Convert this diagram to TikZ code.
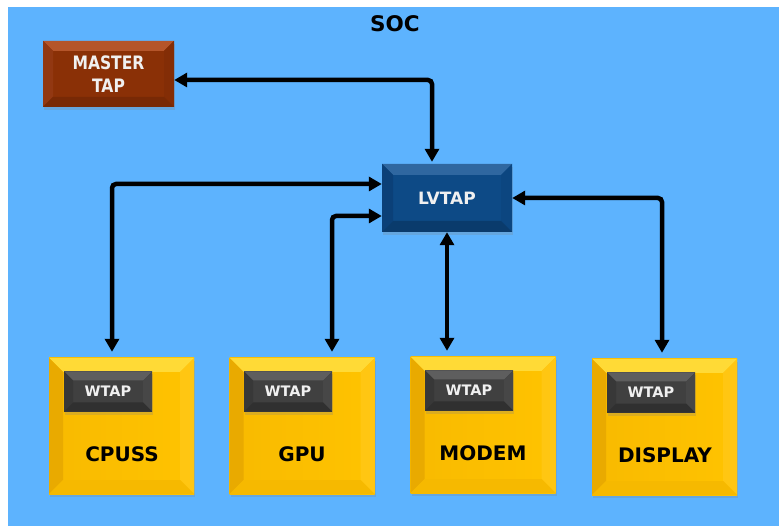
\documentclass[tikz,border=0pt]{standalone}
\usepackage{fontspec}
\setmainfont{DejaVu Sans}
\newfontfamily\narrowfont[FakeStretch=0.84]{DejaVu Sans}
\usetikzlibrary{arrows.meta,shadows,calc}

% palette
\definecolor{socblue}{HTML}{5DB3FE}
\definecolor{brmain}{HTML}{8A3006}
\definecolor{brtop}{HTML}{B5552A}
\definecolor{brleft}{HTML}{923812}
\definecolor{brright}{HTML}{832D06}
\definecolor{brbottom}{HTML}{782905}
\definecolor{lvmain}{HTML}{0D4A86}
\definecolor{lvtop}{HTML}{2F67A0}
\definecolor{lvleft}{HTML}{0B4078}
\definecolor{lvright}{HTML}{0C4680}
\definecolor{lvbottom}{HTML}{0A3B6C}
\definecolor{ylmainl}{HTML}{F8BA00}
\definecolor{ylmainr}{HTML}{FFC300}
\definecolor{yltop}{HTML}{FFDA36}
\definecolor{ylleft}{HTML}{E9AA00}
\definecolor{ylright}{HTML}{FFC612}
\definecolor{ylbottom}{HTML}{F6B900}
\definecolor{wtmain}{HTML}{404040}
\definecolor{wttop}{HTML}{5E5E5E}
\definecolor{wtleft}{HTML}{383838}
\definecolor{wtright}{HTML}{474747}
\definecolor{wtbottom}{HTML}{303030}

% four bevelled faces round the flat centre of a box
\newcommand\bevelfaces[5]{%
  \fill[#2] (path picture bounding box.north west) -- (path picture bounding box.north east)
    -- ([shift={(-#1,-#1)}]path picture bounding box.north east)
    -- ([shift={(#1,-#1)}]path picture bounding box.north west) -- cycle;
  \fill[#3] (path picture bounding box.north west) -- ([shift={(#1,-#1)}]path picture bounding box.north west)
    -- ([shift={(#1,#1)}]path picture bounding box.south west)
    -- (path picture bounding box.south west) -- cycle;
  \fill[#4] (path picture bounding box.north east) -- ([shift={(-#1,-#1)}]path picture bounding box.north east)
    -- ([shift={(-#1,#1)}]path picture bounding box.south east)
    -- (path picture bounding box.south east) -- cycle;
  \fill[#5] (path picture bounding box.south west) -- ([shift={(#1,#1)}]path picture bounding box.south west)
    -- ([shift={(-#1,#1)}]path picture bounding box.south east)
    -- (path picture bounding box.south east) -- cycle;
}

\tikzset{
  box/.style={rectangle, inner sep=0pt, draw=none,
    drop shadow={shadow xshift=1pt, shadow yshift=-3pt, opacity=0.25}},
  masterbox/.style={box, minimum width=131pt, minimum height=66pt, fill=brmain,
    text=white!94!black, align=center,
    font=\narrowfont\bfseries\fontsize{18.5}{23}\selectfont,
    path picture={\bevelfaces{10pt}{brtop}{brleft}{brright}{brbottom}}},
  lvbox/.style={box, minimum width=130pt, minimum height=68pt, fill=lvmain,
    text=white!94!black, font=\bfseries\fontsize{17}{20}\selectfont,
    path picture={\bevelfaces{11pt}{lvtop}{lvleft}{lvright}{lvbottom}}},
  blockbox/.style={box, minimum width=145pt, minimum height=136pt,
    left color=ylmainl, right color=ylmainr,
    path picture={\bevelfaces{14pt}{yltop}{ylleft}{ylright}{ylbottom}}},
  wtapbox/.style={box, minimum width=88pt, minimum height=40pt, fill=wtmain,
    text=white!94!black, font=\bfseries\fontsize{14.5}{17}\selectfont,
    path picture={\bevelfaces{9pt}{wttop}{wtleft}{wtright}{wtbottom}}},
  blocklabel/.style={text=black, font=\bfseries\fontsize{20}{24}\selectfont},
  link/.style={line width=4.5pt, rounded corners=4pt,
    {Triangle[length=13pt,width=14pt]}-{Triangle[length=13pt,width=14pt]}},
}

\begin{document}
\begin{tikzpicture}[x=1pt,y=-1pt]
  \useasboundingbox (0,0) rectangle (779,526);
  \fill[white] (0,0) rectangle (779,526);
  \fill[socblue] (8,7) rectangle (779,526);

  \node[font=\bfseries\fontsize{21.5}{24}\selectfont, text=black] (soc) at (395,24) {SOC};

  \node[masterbox] (master) at (108.5,74) {MASTER\\TAP};
  \node[lvbox] (lvtap) at (447,198) {LVTAP};

  \node[blockbox] (cpuss) at (121.5,426) {};
  \node[blockbox] (gpu) at (302,426) {};
  \node[blockbox] (modem) at (483,425) {};
  \node[blockbox] (display) at (664.5,427) {};

  \node[wtapbox] (wcpuss) at (108,391.5) {WTAP};
  \node[wtapbox] (wgpu) at (288,391.5) {WTAP};
  \node[wtapbox] (wmodem) at (469,390.5) {WTAP};
  \node[wtapbox] (wdisplay) at (651,392.5) {WTAP};

  \node[blocklabel] (lcpuss) at (122,454) {CPUSS};
  \node[blocklabel] (lgpu) at (302,454) {GPU};
  \node[blocklabel] (lmodem) at (483,453) {MODEM};
  \node[blocklabel] (ldisplay) at (665,455) {DISPLAY};

  % arrow ends sit just above the yellow blocks
  \coordinate (modemtop) at ([yshift=6pt]modem.north);

  \draw[link] ([yshift=-6pt]master.east) -| ([xshift=-15pt,yshift=2pt]lvtap.north);
  \draw[link] ([yshift=14pt]lvtap.west) -| ([xshift=-9.5pt,yshift=6pt]cpuss.north);
  \draw[link] ([yshift=-18pt]lvtap.west) -| ([xshift=30pt,yshift=6pt]gpu.north);
  \draw[link] (lvtap.south) -- (lvtap.south |- modemtop);
  \draw[link] (lvtap.east) -| ([xshift=-2.5pt,yshift=6pt]display.north);
\end{tikzpicture}
\end{document}
